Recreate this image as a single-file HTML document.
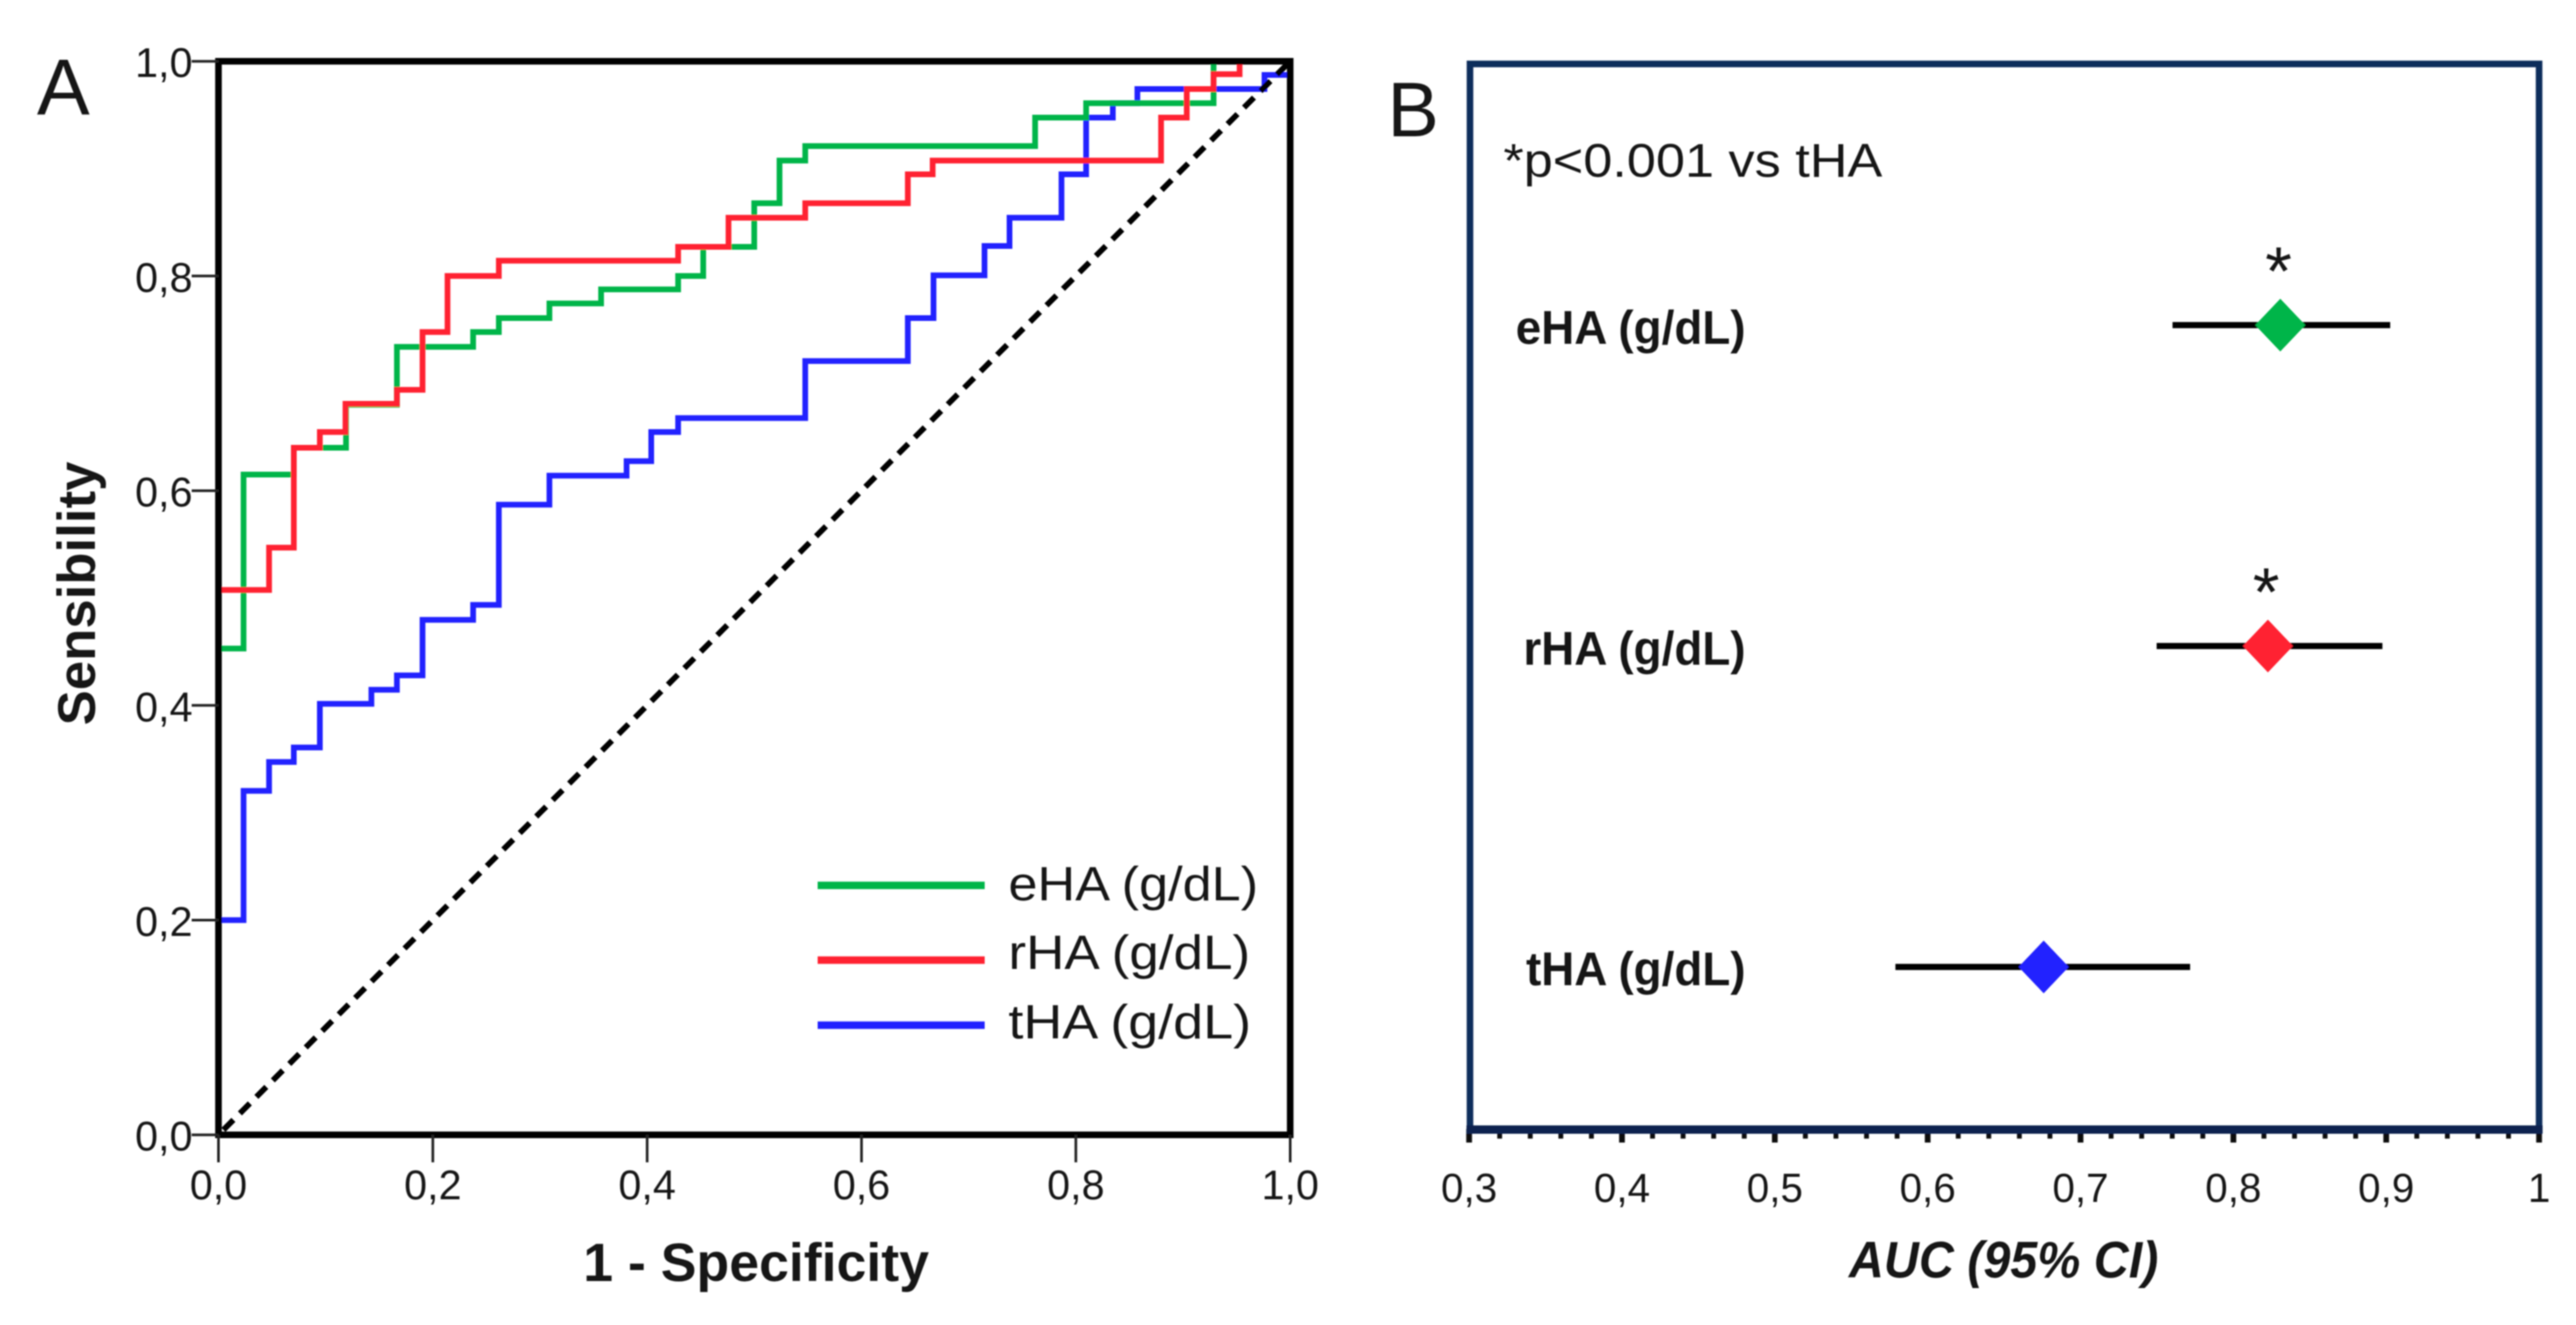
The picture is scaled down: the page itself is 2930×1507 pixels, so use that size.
<!DOCTYPE html>
<html lang="en">
<head>
<meta charset="utf-8">
<title>ROC curves and AUC comparison</title>
<style>
html,body{margin:0;padding:0;background:#fff;width:2930px;height:1507px;overflow:hidden}
svg{display:block}
text{font-family:"Liberation Sans",sans-serif;fill:#151515}
</style>
</head>
<body>
<svg id="fig" xmlns="http://www.w3.org/2000/svg" width="2930" height="1507" viewBox="0 0 2930 1507">
  <defs><filter id="soft" x="0" y="0" width="100%" height="100%" filterUnits="userSpaceOnUse"><feGaussianBlur stdDeviation="0.7"/></filter></defs>
  <rect width="2930" height="1507" fill="#fff"/>
  <g id="panelA" filter="url(#soft)"></g>
  <g id="panelB" filter="url(#soft)"></g>
</svg>
<script>
// ---- Panel A data: ROC step curves (point at which each step occurs) ----
const rocTicks = [0, 0.2, 0.4, 0.6, 0.8, 1.0];
const rocTickLabels = ['0,0', '0,2', '0,4', '0,6', '0,8', '1,0'];
const seriesNames = ['eHA (g/dL)', 'rHA (g/dL)', 'tHA (g/dL)'];
const ehaFpr = [0, 0.0234, 0.0703, 0.119, 0.1665, 0.2376, 0.2616, 0.3088, 0.357, 0.4289, 0.4523, 0.4999, 0.5235, 0.5475, 0.762, 0.8096, 0.9285];
const ehaSens = [0.453, 0.615, 0.64, 0.68, 0.734, 0.7478, 0.7608, 0.7744, 0.7875, 0.8, 0.8272, 0.8678, 0.9075, 0.921, 0.9475, 0.961, 1.0];
const rhaFpr = [0, 0.0472, 0.0703, 0.0946, 0.1185, 0.1665, 0.1904, 0.2137, 0.2616, 0.4289, 0.4759, 0.5475, 0.6432, 0.6664, 0.8795, 0.9035, 0.9285, 0.9528];
const rhaSens = [0.5075, 0.547, 0.64, 0.6546, 0.681, 0.694, 0.7478, 0.8, 0.8142, 0.8272, 0.8543, 0.8678, 0.8947, 0.9075, 0.9475, 0.9742, 0.988, 1.0];
const thaFpr = [0, 0.0234, 0.0472, 0.0703, 0.0946, 0.1427, 0.1665, 0.1904, 0.2376, 0.2616, 0.3088, 0.3808, 0.4038, 0.4289, 0.5475, 0.6432, 0.6672, 0.7148, 0.7381, 0.7866, 0.8096, 0.8345, 0.8574, 0.976, 1.0];
const thaSens = [0.2, 0.3204, 0.3473, 0.3608, 0.4015, 0.4146, 0.428, 0.4797, 0.4936, 0.587, 0.614, 0.6275, 0.6546, 0.6676, 0.7208, 0.7608, 0.8006, 0.828, 0.8543, 0.8947, 0.9475, 0.961, 0.9742, 0.9873, 1.0];

// ---- Panel B data: AUC with 95% CI ----
const aucNames = ['eHA (g/dL)', 'rHA (g/dL)', 'tHA (g/dL)'];
const aucValues = [0.8307, 0.8226, 0.6759];
const aucLow = [0.7602, 0.7498, 0.5789];
const aucHigh = [0.9026, 0.8975, 0.7717];
const aucSignificant = [true, true, false];
const aucTicks = [0.3, 0.4, 0.5, 0.6, 0.7, 0.8, 0.9, 1];
const aucTickLabels = ['0,3', '0,4', '0,5', '0,6', '0,7', '0,8', '0,9', '1'];
const aucMinorTicks = [0.32,0.34,0.36,0.38,0.42,0.44,0.46,0.48,0.52,0.54,0.56,0.58,0.62,0.64,0.66,0.68,0.72,0.74,0.76,0.78,0.82,0.84,0.86,0.88,0.92,0.94,0.96,0.98];

const GREEN = '#00b54a', RED = '#ff2030', BLUE = '#2222ff', NAVY = '#0f2d5c';
const NS = 'http://www.w3.org/2000/svg';
const A = document.getElementById('panelA');
const B = document.getElementById('panelB');

function mk(tag, parent, attrs, txt) {
  const el = document.createElementNS(NS, tag);
  for (const k in attrs) el.setAttribute(k, attrs[k]);
  if (txt !== undefined) el.textContent = txt;
  parent.appendChild(el);
  return el;
}

// Axis functions
const rx = v => 248.5 + 1219 * v;
const ry = v => 1290.7 - 1221 * v;
const bx = v => 1671 + (v - 0.3) / 0.7 * 1217;
const rowY = i => 369.8 + 364.95 * i;

function stepPath(fpr, sens) {
  let d = 'M' + rx(fpr[0]) + ' ' + ry(sens[0]);
  for (let i = 1; i < fpr.length; i++) {
    d += 'H' + rx(fpr[i]) + 'V' + ry(sens[i]);
  }
  return d + 'H' + rx(1);
}

// ---------- Panel A ----------
let el;
el = mk('text', A, {x: 42, y: 130, 'font-size': 90}, 'A');



const curves = [
  {name: 'tha-roc-curve', f: thaFpr, s: thaSens, c: BLUE},
  {name: 'eha-roc-curve', f: ehaFpr, s: ehaSens, c: GREEN},
  {name: 'rha-roc-curve', f: rhaFpr, s: rhaSens, c: RED}
];
curves.forEach(cv => {
  const p = mk('path', A, {d: stepPath(cv.f, cv.s), fill: 'none', stroke: cv.c, 'stroke-width': 6.5, 'stroke-linejoin': 'miter'});
  
  
});

el = mk('line', A, {x1: rx(0), y1: ry(0), x2: rx(1), y2: ry(1), stroke: '#000', 'stroke-width': 6.5, 'stroke-dasharray': '16 10.5', 'stroke-dashoffset': '-8'});



el = mk('rect', A, {x: rx(0), y: ry(1), width: rx(1) - rx(0), height: ry(0) - ry(1), fill: 'none', stroke: '#000', 'stroke-width': 7.5});



rocTicks.forEach((t, i) => {
  const yt = mk('line', A, {x1: 218, x2: rx(0), y1: ry(t), y2: ry(t), stroke: '#222', 'stroke-width': 3});
  
  
  const yl = mk('text', A, {x: 219, y: ry(t) + 18, 'font-size': 47, 'text-anchor': 'end'}, rocTickLabels[i]);
  
  
  const xt = mk('line', A, {x1: rx(t), x2: rx(t), y1: ry(0), y2: 1322, stroke: '#222', 'stroke-width': 3});
  
  
  const xl = mk('text', A, {x: rx(t), y: 1364, 'font-size': 47, 'text-anchor': 'middle'}, rocTickLabels[i]);
  
  
});

el = mk('text', A, {x: 108, y: 675, 'font-size': 60, 'font-weight': 'bold', 'text-anchor': 'middle', transform: 'rotate(-90 108 675)'}, 'Sensibility');



el = mk('text', A, {x: 860, y: 1457, 'font-size': 61, 'font-weight': 'bold', 'text-anchor': 'middle'}, '1 - Specificity');



// Legend
const legendRows = [
  {c: GREEN, ly: 1007, ty: 1024, w: 284},
  {c: RED, ly: 1092, ty: 1102, w: 275},
  {c: BLUE, ly: 1166, ty: 1181, w: 276}
];
legendRows.forEach((r, i) => {
  const sw = mk('line', A, {x1: 930, x2: 1120, y1: r.ly, y2: r.ly, stroke: r.c, 'stroke-width': 8.5});
  
  
  const lb = mk('text', A, {x: 1147, y: r.ty, 'font-size': 55, textLength: r.w, lengthAdjust: 'spacingAndGlyphs'}, seriesNames[i]);
  
  
});

// ---------- Panel B ----------
el = mk('text', B, {x: 1578, y: 155, 'font-size': 88}, 'B');



el = mk('rect', B, {x: bx(0.3) + 1, y: 72.7, width: bx(1) - bx(0.3) - 1, height: 1284.5 - 72.7, fill: 'none', stroke: NAVY, 'stroke-width': 7.5});



aucMinorTicks.forEach(t => {
  const m = mk('line', B, {x1: bx(t), x2: bx(t), y1: 1284, y2: 1295, stroke: '#0a0a0a', 'stroke-width': 5.5});
  
  
});
aucTicks.forEach((t, i) => {
  const m = mk('line', B, {x1: bx(t), x2: bx(t), y1: 1284, y2: 1299.5, stroke: '#0a0a0a', 'stroke-width': 6.5});
  
  
  const l = mk('text', B, {x: bx(t), y: 1367, 'font-size': 46, 'text-anchor': 'middle'}, aucTickLabels[i]);
  
  
});

el = mk('line', B, {x1: bx(0.3) - 3, x2: bx(1) + 4, y1: 1284.7, y2: 1284.7, stroke: '#0b2450', 'stroke-width': 9.5});



el = mk('text', B, {x: 1710, y: 201, 'font-size': 54, textLength: 431, lengthAdjust: 'spacingAndGlyphs'}, '*p<0.001 vs tHA');



el = mk('text', B, {x: 2103, y: 1453, 'font-size': 58, 'font-weight': 'bold', 'font-style': 'italic', textLength: 352, lengthAdjust: 'spacingAndGlyphs'}, 'AUC (95% CI)');



const markerColors = [GREEN, RED, BLUE];
aucNames.forEach((n, i) => {
  const y = rowY(i);
  const lb = mk('text', B, {x: 1985.5, y: y + 21, 'font-size': 54, 'font-weight': 'bold', 'text-anchor': 'end'}, n);
  
  
  lb.setAttribute('textLength', (lb.getComputedTextLength() * 0.965).toFixed(1));
  lb.setAttribute('lengthAdjust', 'spacingAndGlyphs');
  const ci = mk('line', B, {x1: bx(aucLow[i]), x2: bx(aucHigh[i]), y1: y, y2: y, stroke: '#000', 'stroke-width': 7});
  
  
  const cx = bx(aucValues[i]);
  const d = mk('polygon', B, {points: [[cx, y - 30], [cx + 28.5, y], [cx, y + 30], [cx - 28.5, y]].join(' '), fill: markerColors[i]});
  
  
  if (aucSignificant[i]) {
    const s = mk('text', B, {x: cx - 2, y: y - 35, 'font-size': 78, 'text-anchor': 'middle'}, '*');
    
    
  }
});
</script>
</body>
</html>
